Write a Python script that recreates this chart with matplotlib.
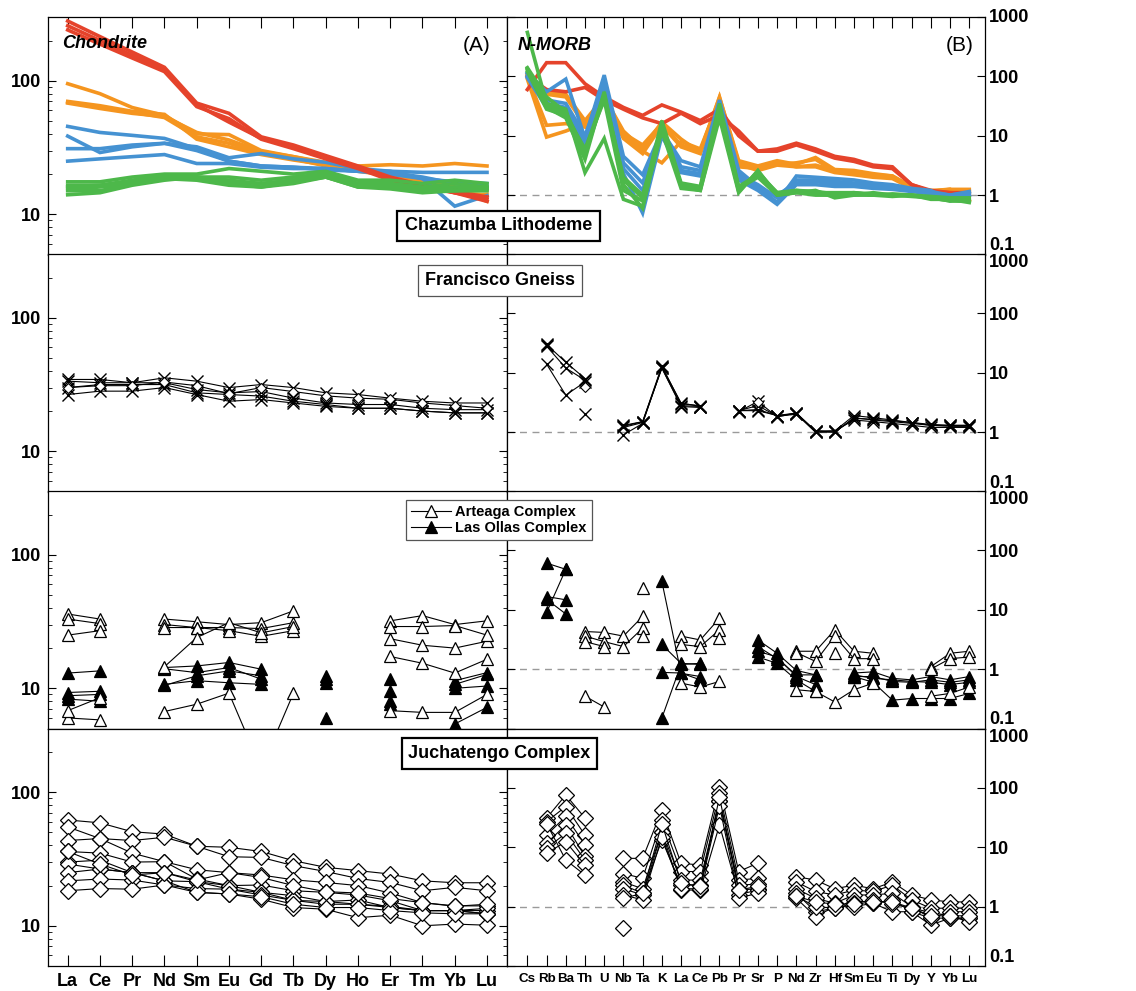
import numpy as np
import matplotlib
matplotlib.use('Agg')
import matplotlib.pyplot as plt
from matplotlib.patches import Rectangle
from matplotlib.lines import Line2D
from matplotlib.ticker import FixedLocator, LogLocator, NullLocator, NullFormatter

plt.rcParams['font.family'] = ['Liberation Sans', 'DejaVu Sans']

n = np.nan

# element order
ree = ['La', 'Ce', 'Pr', 'Nd', 'Sm', 'Eu', 'Gd', 'Tb', 'Dy', 'Ho', 'Er', 'Tm', 'Yb', 'Lu']
spider = ['Cs', 'Rb', 'Ba', 'Th', 'U', 'Nb', 'Ta', 'K', 'La', 'Ce', 'Pb', 'Pr',
          'Sr', 'P', 'Nd', 'Zr', 'Hf', 'Sm', 'Eu', 'Ti', 'Dy', 'Y', 'Yb', 'Lu']

# ---- Chazumba Lithodeme, chondrite normalised (coloured groups)
chz_ree_red = [
    [280, 214, 164, 126, 68, 57, 38, 33, 27.5, 23, 19, 16.5, 14.5, 12.5],
    [258, 200, 155, 120, 66, 49, 37, 32, 27, 22.5, 18.5, 16, 14.8, 13.5],
    [240, 188, 148, 117, 64, 52, 36.5, 31, 26, 22, 18, 16, 14.5, 13],
]
chz_ree_orange = [
    [95, 80, 63, 55, 40, 39.5, 30, 27, 24.5, 23, 23.5, 23, 24, 23],
    [69, 63, 58, 53, 38, 34, 28.5, 26, 23, 21.5, 20, 18, 15.5, 12.5],
    [70, 65, 59, 56, 36.5, 32, 28, 25.5, 23.5, 21, 19.5, 17.5, 14.5, 14],
    [68, 62, 57, 54, 41, 36, 29.5, 27, 24, 22, 20.5, 18.5, 16, 15],
]
chz_ree_blue = [
    [45.5, 41, 39, 37, 31, 25, 23, 22.5, 21.5, 21, 21, 20.6, 20.6, 20.6],
    [38.5, 29, 32, 34, 32, 26.5, 28.5, 26, 24.5, 22, 21, 18.5, 11.5, 13.8],
    [31, 31, 33, 34, 30, 25, 23, 22.5, 22, 21, 20, 18.5, 17.5, 17],
    [25, 26, 27, 28, 24, 24, 22.5, 22, 22, 21, 20.5, 19, 17, 16],
]
chz_ree_green = [
    [17.5, 17.5, 19, 20, 20, 22, 21, 20, 21, 18, 18, 17, 18, 17],
    [16.5, 16.5, 18, 19.5, 19, 19, 18, 19, 20, 17, 17, 16, 17, 16],
    [15.5, 16, 17, 19, 19, 18, 17, 18, 20, 17, 16.5, 15.5, 16, 15.5],
    [14, 14.5, 16.5, 18, 19, 17, 16, 17, 19, 16, 16, 15, 15, 15],
    [16, 16.5, 17.5, 19, 18.5, 17.5, 17, 18, 19, 16.5, 16, 15, 16, 16],
    [15, 15, 17, 18.5, 18, 16.5, 16, 17.5, 19, 16, 15.5, 14.5, 15, 15.5],
]

# ---- Chazumba Lithodeme, N-MORB normalised
chz_sp_red = [
    [60, 170, 170, 75, 45, 30, 22, 33, 25, 18, 28, 10, 5.5, 6, 7.5, 6, 4.5, 4, 3.2, 3, 1.5, 1.2, 1.1, 1.1],
    [100, 60, 55, 65, 40, 28, 20, 16, 24, 16, 22, 12, 5.5, 5.5, 7, 5.5, 4.2, 3.7, 3, 2.8, 1.5, 1.15, 1.1, 1.05],
]
chz_sp_orange = [
    [100, 15, 16, 14, 45, 12, 6, 17, 8.8, 5.2, 44, 3.8, 3.1, 3.8, 3.3, 4.3, 2.7, 2.6, 2.3, 2.1, 1.35, 1.18, 1.26, 0.8],
    [90, 9.5, 12, 16, 40, 10, 5.5, 3.5, 8, 6, 40, 3.0, 2.8, 3.3, 3.5, 4.0, 2.5, 2.4, 2.2, 2.0, 1.3, 1.2, 1.2, 1.2],
    [110, 55, 50, 18, 45, 11, 7, 16, 7, 5.5, 45, 3.5, 3.0, 3.5, 3.0, 3.2, 2.6, 2.3, 2.2, 2.1, 1.4, 1.15, 1.25, 1.25],
    [105, 50, 45, 15, 42, 9, 5, 15, 6.5, 5, 38, 3.3, 2.6, 3.2, 3.0, 3.0, 2.4, 2.2, 2.0, 1.9, 1.3, 1.1, 1.2, 1.15],
]
chz_sp_blue = [
    [115, 55, 90, 9, 105, 4.5, 2.2, 12, 3.8, 3.0, 40, 2.6, 1.4, 0.75, 2.1, 2.0, 1.9, 1.8, 1.6, 1.5, 1.3, 1.2, 0.8, 1.0],
    [100, 40, 35, 10, 80, 3.5, 1.6, 12, 3.0, 2.6, 35, 2.2, 1.5, 0.9, 1.8, 1.8, 1.7, 1.6, 1.5, 1.4, 1.25, 1.15, 1.0, 1.15],
    [110, 35, 30, 8, 90, 2.8, 1.2, 11, 2.6, 2.3, 30, 2.0, 1.3, 1.0, 1.6, 1.7, 1.5, 1.5, 1.4, 1.3, 1.2, 1.1, 1.0, 1.1],
    [95, 30, 28, 7, 70, 2.3, 0.5, 10, 2.4, 2.1, 25, 1.8, 1.2, 0.7, 1.5, 1.5, 1.4, 1.4, 1.3, 1.25, 1.15, 1.05, 0.95, 1.0],
]
chz_sp_green = [
    [550, 35, 28, 2.4, 9, 0.85, 0.65, 12, 1.3, 1.2, 20, 1.1, 2.6, 1.0, 1.1, 1.0, 1.0, 1.0, 1.0, 0.95, 1.0, 0.85, 0.85, 0.75],
    [140, 45, 25, 5, 45, 2.0, 1.0, 14, 1.5, 1.3, 30, 1.4, 2.2, 1.1, 1.2, 1.1, 1.1, 1.1, 1.05, 1.0, 1.0, 0.9, 0.8, 0.8],
    [130, 30, 20, 4, 55, 1.5, 0.6, 15, 1.4, 1.2, 25, 1.2, 2.4, 1.1, 1.15, 1.05, 1.0, 1.05, 1.0, 1.0, 0.95, 0.9, 0.85, 0.85],
    [120, 28, 22, 6, 40, 1.2, 0.8, 18, 1.6, 1.4, 35, 1.3, 2.0, 1.0, 1.1, 1.2, 0.9, 1.0, 1.1, 1.0, 1.0, 0.95, 0.9, 0.9],
    [135, 33, 24, 5.5, 50, 1.8, 0.9, 13, 1.5, 1.3, 28, 1.15, 2.5, 1.05, 1.2, 1.15, 1.05, 1.1, 1.0, 1.05, 1.0, 0.9, 0.8, 0.8],
]

# ---- Francisco Gneiss
fg_ree = [
    [34.5, 34.5, 32.6, 35.5, 33.5, 30, 31.6, 30, 27.4, 26.6, 25, 23.7, 23, 23],
    [33.5, 32.6, 32.6, 32.6, 29, 27.4, 28, 25, 23, 22.4, 22.4, 21, 20.5, 20.5],
    [30, 31.6, 31.6, 31.6, 27.4, 26.6, 25.9, 23.7, 22.4, 21, 21, 20, 19.4, 19.4],
    [26.6, 28.2, 28.2, 30, 26.6, 23.7, 24.4, 23, 21.7, 21, 21, 20, 19.4, 19.4],
]
fg_ree_d = [30, 31, 31, 33, 31, 27, 30, 28, 26, 25, 24.5, 23, 22, 21]
fg_sp = [
    [n, 30, 15, 8.0, n, 1.3, 1.5, 13, 3.0, 2.8, n, 2.3, 2.4, 1.9, 2.1, 1.05, 1.05, 1.9, 1.75, 1.6, 1.45, 1.35, 1.3, 1.3],
    [n, 28, 12, 7.5, n, 1.2, 1.45, 12, 2.7, 2.6, n, 2.3, 2.8, 1.85, 2.0, 1.0, 1.0, 1.75, 1.6, 1.5, 1.4, 1.3, 1.25, 1.25],
    [n, 14, 4.2, 7.0, n, 0.9, 1.4, 12.5, 3.1, 2.7, n, 2.2, 3.3, 1.8, 2.1, 1.0, 1.05, 1.6, 1.5, 1.4, 1.3, 1.2, 1.2, 1.2],
    [n, 29, n, 2.0, n, 1.25, 1.5, 12, 2.8, 2.7, n, 2.3, 2.3, 1.9, 2.05, 1.05, 1.0, 1.7, 1.65, 1.55, 1.45, 1.3, 1.3, 1.3],
]
fg_sp_d = [n, n, n, 5.7, n, n, n, n, n, n, n, n, 3.2, n, n, n, n, n, n, n, n, n, n, n]

# ---- Arteaga (open) and Las Ollas (filled) complexes
art_ree = [
    [36, 33, n, 33, 31.5, 30, 31, 38, n, n, 32, 35, 30, 32],
    [33, 30.5, n, 30, 28.5, 28.5, 28, 31, n, n, 23.5, 21, 20, 22.5],
    [25, 27, n, 28.5, 28.5, 27, 24.5, 27, n, n, 17.3, 15.4, 13, 16.5],
    [6.0, 5.8, n, 6.7, 7.6, 9.2, 2.5, 9.2, n, n, 6.8, 6.6, 6.6, 9.0],
    [6.8, 8.5, n, 14.5, 24, 31, 26, 29, n, n, 29, 29, 29.5, 25],
]
oll_ree = [
    [13, 13.5, n, 14.3, 14.7, 15.6, 13.9, n, 12.4, n, 11.7, n, 11.4, 13.1],
    [9.3, 9.5, n, 10.7, 11.4, 11.0, 10.7, n, 11.0, n, 9.5, n, 10.0, 10.4],
    [8.8, 9.0, n, 14.0, 13.1, 14.3, 11.7, n, 11.8, n, 8.0, n, 10.7, 12.7],
    [8.3, 8.0, n, 10.5, 12.4, 13.5, 12.4, n, 6.0, n, 7.6, n, 5.4, 7.2],
]
art_sp = [
    [n, n, n, 4.3, 4.15, 3.6, 7.7, n, 3.6, 3.1, 7.2, n, n, n, 2.0, 2.0, 4.6, 2.0, 1.85, n, n, 1.1, 1.85, 2.0],
    [n, n, n, 3.6, 2.9, 2.4, 4.9, n, 2.6, 2.4, 4.6, n, n, n, 1.9, 1.35, 3.6, 1.5, 1.5, n, n, 1.0, 1.5, 1.6],
    [n, n, n, 2.9, 2.4, n, 3.6, n, 0.58, 0.5, 0.62, n, n, n, 0.45, 0.42, 0.28, 0.45, 0.58, n, n, 0.35, 0.39, 0.5],
    [n, n, n, 0.35, 0.23, n, 23, n, n, n, 3.3, n, n, n, n, n, 1.86, n, n, n, n, n, n, n],
]
oll_sp = [
    [n, 61, 48, n, n, n, n, 30, 0.85, 0.75, n, n, 3.1, 1.85, 0.95, 0.8, n, 0.86, 0.9, 0.7, 0.66, 0.75, 0.66, 0.75],
    [n, 16.7, 14.7, n, n, n, n, 2.6, 1.25, 1.2, n, n, 2.4, 1.5, 0.8, 0.8, n, 0.75, 0.75, 0.62, 0.6, 0.66, 0.6, 0.66],
    [n, 9.0, 48, n, n, n, n, 0.88, 0.86, 0.66, n, n, 1.6, 1.25, 0.66, 0.42, n, 0.75, 0.6, 0.3, 0.32, 0.32, 0.32, 0.39],
    [n, 15, 8.5, n, n, n, n, 0.15, 1.2, 1.25, n, n, 2.0, 1.6, 0.75, 0.55, n, 0.8, 0.7, 0.66, 0.62, 0.6, 0.55, 0.6],
]

# ---- Juchatengo Complex
juc_ree = [
    [62, 59, 50.6, 48.6, 39.4, 38.7, 36, 30.7, 27.4, 25.9, 24.4, 21.7, 21, 21],
    [55, 45, 43.5, 46, 39.4, 32.9, 32.5, 28.2, 25.5, 22.6, 21.1, 18.3, 19.4, 18.3],
    [43.5, 45, 35, 30.2, 26.3, 25, 24, 22.1, 21.1, 20, 17.6, 14.9, 14.1, 14.1],
    [36, 35, 30, 30.2, 22.4, 20, 20.2, 18.3, 17.8, 17, 15.4, 13, 13, 12.3],
    [30, 31, 25, 25, 21.4, 18.8, 17.8, 16.8, 15.2, 15.6, 13.7, 13, 13, 13],
    [29, 26.6, 25, 21.7, 21.4, 20, 17.8, 15.5, 14.5, 14.5, 14, 13, 13, 12.3],
    [25, 26.6, 25, 21.7, 17.8, 17.3, 15.8, 13.7, 13.3, 11.5, 12, 10, 10.3, 10.1],
    [21.7, 22.4, 22, 20.2, 19, 18.8, 17, 15.5, 15.2, 14.5, 13.7, 13, 13, 13.5],
    [18.3, 19, 18.8, 20.2, 17.8, 17.3, 16.5, 14.5, 13.7, 13.7, 13, 12.5, 12.3, 12.3],
    [36, 29, 24, 25, 22, 25, 23, 20, 18, 17.6, 16, 14.9, 14, 14.5],
]
juc_sp = [
    [n, 31, 76, 31, n, 6.5, 6.5, 42, 5.4, 5.0, 105, 3.9, 5.4, n, 3.2, 2.8, 2.0, 2.3, 2.0, 2.6, 1.57, 1.3, 1.2, 1.2],
    [n, 27, 48.5, 16, n, 3.6, 3.0, 29, 3.9, 3.9, 81, 2.8, 3.0, n, 2.6, 1.8, 1.57, 1.9, 1.8, 2.3, 1.3, 0.94, 0.94, 0.94],
    [n, 16, 33, 11, n, 2.6, 2.0, 18.4, 2.8, 2.8, 59, 2.3, 2.4, n, 2.0, 1.38, 1.14, 1.57, 1.57, 1.68, 1.0, 0.64, 0.82, 0.82],
    [n, 11.7, 23.7, 7, n, 2.3, 1.68, 13.3, 2.3, 2.3, 59, 1.9, 2.0, n, 1.68, 0.82, 0.94, 1.3, 1.14, 1.3, 0.82, 0.49, 0.64, 0.64],
    [n, 9.6, 17.2, 6.1, n, 2.0, 1.57, 18, 1.9, 1.9, 23.7, 1.6, 1.9, n, 1.38, 0.68, 1.0, 1.0, 1.14, 0.82, 0.82, 0.64, 0.64, 0.64],
    [n, 7.9, 12.4, 5.0, n, 1.57, 1.3, 15, 2.0, 2.0, 50, 1.4, 1.68, n, 1.5, 1.0, 0.94, 1.14, 1.3, 1.1, 0.94, 0.8, 0.7, 0.55],
    [n, 25, 6.1, 3.4, n, 1.38, 1.68, 25, 2.5, 2.2, 70, 1.9, 2.2, n, 1.5, 1.2, 1.1, 1.1, 1.2, 1.2, 0.95, 0.7, 0.7, 0.7],
    [n, n, n, n, n, 0.43, n, n, n, n, n, n, n, n, n, n, n, n, n, n, n, n, n, n],
]

RED, ORANGE, BLUE, GREEN = '#E5432B', '#F5951F', '#4592D2', '#4DB84A'

# ---- layout (pixels of the 1136 x 991 figure)
W, H = 1136, 991
fig = plt.figure(figsize=(W / 100, H / 100), dpi=100)
row_tops = [17, 254, 491, 728.5]
row_h = 237.5
xl0, xmid, xr1 = 47.7, 507, 985


def add_px_axes(x0, x1, top):
    return fig.add_axes([x0 / W, 1 - (top + row_h) / H, (x1 - x0) / W, row_h / H])


TICKFONT = dict(fontsize=13, fontweight='bold')


def style_left(ax, top_ticks=False, bottom_ticks=False):
    ax.set_yscale('log')
    ax.set_ylim(5, 300)
    ax.set_xlim(-0.62, 13.62)
    ax.yaxis.set_major_locator(FixedLocator([10, 100]))
    ax.set_yticklabels(['10', '100'], **TICKFONT)
    ax.yaxis.set_minor_locator(LogLocator(base=10, subs=range(2, 10)))
    ax.yaxis.set_minor_formatter(NullFormatter())
    ax.tick_params(axis='y', which='both', direction='in', left=True, right=True)
    ax.tick_params(axis='y', which='major', length=6, width=0.8, pad=5)
    ax.tick_params(axis='y', which='minor', length=3, width=0.6)
    ax.set_xticks(range(len(ree)))
    ax.tick_params(axis='x', direction='in', top=top_ticks, bottom=bottom_ticks,
                   length=8, width=0.8, labelbottom=bottom_ticks, pad=5)
    if bottom_ticks:
        ax.set_xticklabels(ree, **TICKFONT)


def style_right(ax, row, top_ticks=False, bottom_ticks=False):
    ax.set_yscale('log')
    ax.set_ylim(0.1, 1000)
    ax.set_xlim(-1.06, 23.82)
    ax.set_yticks([0.1, 1, 10, 100, 1000])
    ax.set_yticklabels(['0.1', '1', '10', '100', '1000'], **TICKFONT)
    ax.yaxis.set_minor_locator(NullLocator())
    ax.yaxis.tick_right()
    ax.tick_params(axis='y', which='major', direction='in', left=True, right=True,
                   labelleft=False, labelright=True, length=6, width=0.8, pad=3)
    labs = ax.get_yticklabels()
    labs[0].set_va('bottom')
    labs[-1].set_va('center' if row == 0 else 'top')
    ax.set_xticks(range(len(spider)))
    ax.tick_params(axis='x', direction='in', top=top_ticks, bottom=bottom_ticks,
                   length=8, width=0.8, labelbottom=bottom_ticks, pad=5)
    if bottom_ticks:
        ax.set_xticklabels(spider, fontsize=9.6, fontweight='bold')
    ax.axhline(1, color='#9a9a9a', lw=1, ls=(0, (5, 4)), zorder=0)


axes_left = [add_px_axes(xl0, xmid, t) for t in row_tops]
axes_right = [add_px_axes(xmid, xr1, t) for t in row_tops]
for i, ax in enumerate(axes_left):
    style_left(ax, top_ticks=(i == 0), bottom_ticks=(i == 3))
for i, ax in enumerate(axes_right):
    style_right(ax, i, top_ticks=(i == 0), bottom_ticks=(i == 3))
for ax in axes_left + axes_right:
    for sp in ax.spines.values():
        sp.set_linewidth(0.9)

xr = np.arange(len(ree))
xs = np.arange(len(spider))

# row 1: coloured lines
ax = axes_left[0]
for grp, c in [(chz_ree_orange, ORANGE), (chz_ree_blue, BLUE),
               (chz_ree_red, RED), (chz_ree_green, GREEN)]:
    for y in grp:
        ax.plot(xr, y, color=c, lw=2.6, solid_joinstyle='miter')
ax.text(0.031, 0.89, 'Chondrite', transform=ax.transAxes, fontsize=13,
        fontweight='bold', fontstyle='italic', va='center', ha='left', zorder=5)
ax.text(0.963, 0.882, '(A)', transform=ax.transAxes, fontsize=15,
        va='center', ha='right')

ax = axes_right[0]
for grp, c in [(chz_sp_orange, ORANGE), (chz_sp_red, RED),
               (chz_sp_blue, BLUE), (chz_sp_green, GREEN)]:
    for y in grp:
        ax.plot(xs, y, color=c, lw=2.6, solid_joinstyle='miter')
ax.text(0.023, 0.882, 'N-MORB', transform=ax.transAxes, fontsize=13,
        fontweight='bold', fontstyle='italic', va='center', ha='left', zorder=5)
ax.text(0.977, 0.882, '(B)', transform=ax.transAxes, fontsize=15,
        va='center', ha='right')

line_kw = dict(color='black', lw=0.8)

# row 2: Francisco Gneiss
ax = axes_left[1]
for y in fg_ree:
    ax.plot(xr, y, marker='x', ms=8, mew=1.0, **line_kw)
ax.plot(xr, fg_ree_d, marker='D', ms=5, mfc='white', mec='black', mew=0.8, **line_kw)
ax = axes_right[1]
for y in fg_sp:
    ax.plot(xs, y, marker='x', ms=8, mew=1.0, **line_kw)
ax.plot(xs, fg_sp_d, marker='D', ms=5, mfc='white', mec='black', mew=0.8, ls='none')

# row 3: Arteaga / Las Ollas
open_tri = dict(marker='^', ms=9, mfc='white', mec='black', mew=0.9)
fill_tri = dict(marker='^', ms=9, mfc='black', mec='black', mew=0.9)
for ax, xx, art, oll in [(axes_left[2], xr, art_ree, oll_ree),
                         (axes_right[2], xs, art_sp, oll_sp)]:
    for y in oll:
        ax.plot(xx, y, **fill_tri, **line_kw)
    for y in art:
        ax.plot(xx, y, **open_tri, **line_kw)

# row 4: Juchatengo
dia = dict(marker='D', ms=8, mfc='white', mec='black', mew=0.9)
for y in juc_ree:
    axes_left[3].plot(xr, y, **dia, **line_kw)
for y in juc_sp:
    axes_right[3].plot(xs, y, **dia, **line_kw)


# group title boxes
def title_box(x0, x1, y0, y1, text, lw, ec):
    fig.patches.append(Rectangle((x0 / W, 1 - y1 / H), (x1 - x0) / W, (y1 - y0) / H,
                                 transform=fig.transFigure, fill=True, fc='white',
                                 ec=ec, lw=lw, zorder=10))
    fig.text((x0 + x1) / 2 / W, 1 - (y0 + y1) / 2 / H, text, ha='center', va='center',
             fontsize=13, fontweight='bold', zorder=11)


title_box(397, 600, 211, 241, 'Chazumba Lithodeme', 1.6, 'black')
title_box(418, 582, 265, 296, 'Francisco Gneiss', 0.9, '#555555')
title_box(402, 597, 738, 769, 'Juchatengo Complex', 1.6, 'black')

handles = [Line2D([], [], **open_tri, **line_kw), Line2D([], [], **fill_tri, **line_kw)]
leg = fig.legend(handles, ['Arteaga Complex', 'Las Ollas Complex'], loc='center',
                 bbox_to_anchor=(499 / W, 1 - 520 / H), frameon=True, fancybox=False,
                 edgecolor='#555555', framealpha=1, borderpad=0.35, labelspacing=0.15,
                 handlelength=2.7, handletextpad=0.3,
                 prop=dict(size=10.5, weight='bold'))
leg.get_frame().set_linewidth(0.9)
leg.set_zorder(12)

fig.savefig('out.png', dpi=100)
